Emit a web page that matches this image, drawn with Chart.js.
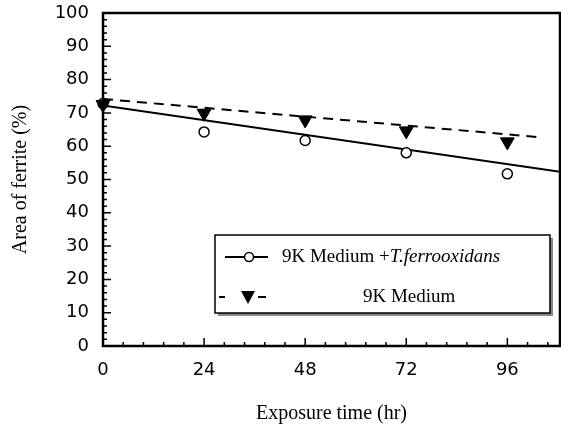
<!DOCTYPE html>
<html>
<head>
<meta charset="utf-8">
<script src="https://cdn.jsdelivr.net/npm/chart.js@4.4.0/dist/chart.umd.min.js"></script>
<style>
  html, body { margin: 0; padding: 0; background: #fff; overflow: hidden; }
  #wrap { width: 561px; height: 432px; position: relative; }
  canvas { display: block; }
</style>
</head>
<body>
<div id="wrap"><canvas id="myChart"></canvas></div>
<script>
var hours = [0, 24, 48, 72, 96];
var withBacteria = [72.8, 64.3, 61.7, 58.0, 51.7];
var mediumOnly = [72.5, 69.9, 67.9, 64.6, 61.3];

// fitted lines (start and end)
var fitBacteriaX = [0, 108.5];
var fitBacteria = [72.2, 52.3];
var fitMediumX = [0, 104.5];
var fitMedium = [74.2, 62.6];

var yTicks = [0, 10, 20, 30, 40, 50, 60, 70, 80, 90, 100];
var xTicks = [0, 24, 48, 72, 96];

var legendLabels = ["9K Medium +", "T.ferrooxidans", "9K Medium"];

function toPoints(xs, ys) {
    return xs.map(function (x, i) { return { x: x, y: ys[i] }; });
}

//Draw inward ticks, frame and the boxed legend
var framePlugin = {
    id: 'frame',
    afterDraw: function (chart) {
        var ctx = chart.ctx;
        var a = chart.chartArea;
        var xs = chart.scales.x, ys = chart.scales.y;
        ctx.save();
        ctx.strokeStyle = '#000';
        ctx.lineWidth = 1.5;
        ctx.beginPath();
        for (var v = 0; v <= 100; v += 2) {
            var py = ys.getPixelForValue(v);
            var len = (v % 10 === 0) ? 8 : 4;
            ctx.moveTo(a.left, py);
            ctx.lineTo(a.left + len, py);
        }
        for (var i = 0; i <= 22; i++) {
            var h = i * 4.8;
            var px = xs.getPixelForValue(h);
            if (px > a.right) break;
            var l = (i % 5 === 0) ? 8 : 4;
            ctx.moveTo(px, a.bottom);
            ctx.lineTo(px, a.bottom - l);
        }
        ctx.stroke();

        ctx.lineWidth = 2.5;
        ctx.strokeRect(a.left, a.top, a.right - a.left, a.bottom - a.top);

        // legend box
        var bx = 215, by = 235, bw = 335, bh = 78;
        ctx.fillStyle = '#888';
        ctx.fillRect(bx + 3, by + 3, bw, bh);
        ctx.fillStyle = '#fff';
        ctx.fillRect(bx, by, bw, bh);
        ctx.lineWidth = 1.5;
        ctx.strokeStyle = '#000';
        ctx.strokeRect(bx, by, bw, bh);

        // row 1
        var r1 = 257;
        ctx.lineWidth = 2;
        ctx.beginPath();
        ctx.moveTo(225, r1);
        ctx.lineTo(268, r1);
        ctx.stroke();
        ctx.beginPath();
        ctx.arc(249, r1, 4.5, 0, Math.PI * 2);
        ctx.fillStyle = '#fff';
        ctx.fill();
        ctx.lineWidth = 1.5;
        ctx.stroke();

        ctx.fillStyle = '#000';
        ctx.textBaseline = 'middle';
        ctx.textAlign = 'left';
        ctx.font = '19px "Liberation Serif", "Times New Roman", serif';
        ctx.fillText(legendLabels[0], 282, r1);
        var w = ctx.measureText(legendLabels[0]).width;
        ctx.font = 'italic 19px "Liberation Serif", "Times New Roman", serif';
        ctx.fillText(legendLabels[1], 282 + w, r1);

        // row 2
        var r2 = 297;
        ctx.lineWidth = 2;
        ctx.beginPath();
        ctx.moveTo(219, r2); ctx.lineTo(225, r2);
        ctx.moveTo(258, r2); ctx.lineTo(266, r2);
        ctx.stroke();
        ctx.beginPath();
        ctx.moveTo(241, r2 - 6);
        ctx.lineTo(255, r2 - 6);
        ctx.lineTo(248, r2 + 7);
        ctx.closePath();
        ctx.fill();
        ctx.font = '19px "Liberation Serif", "Times New Roman", serif';
        ctx.fillText(legendLabels[2], 363, r2);
        ctx.restore();
    }
};

var ctx = document.getElementById("myChart").getContext("2d");

var chart = new Chart(ctx, {
    type: 'scatter',
    data: {
        datasets: [
            {
                label: '9K Medium',
                data: toPoints(hours, mediumOnly),
                pointStyle: 'triangle',
                rotation: 180,
                pointRadius: 8,
                backgroundColor: '#000',
                borderColor: '#000',
                borderWidth: 1,
                showLine: false,
                clip: false,
                order: 0
            },
            {
                label: '9K Medium + T.ferrooxidans',
                data: toPoints(hours, withBacteria),
                pointStyle: 'circle',
                pointRadius: 5,
                backgroundColor: '#fff',
                borderColor: '#000',
                borderWidth: 1.5,
                showLine: false,
                clip: false,
                order: 1
            },
            {
                label: 'fit medium',
                data: toPoints(fitMediumX, fitMedium),
                showLine: true,
                borderColor: '#000',
                borderWidth: 2,
                borderDash: [10, 7],
                pointRadius: 0,
                order: 2
            },
            {
                label: 'fit bacteria',
                data: toPoints(fitBacteriaX, fitBacteria),
                showLine: true,
                borderColor: '#000',
                borderWidth: 2,
                pointRadius: 0,
                order: 3
            }
        ]
    },
    options: {
        responsive: true,
        maintainAspectRatio: false,
        animation: false,
        layout: { autoPadding: false, padding: { top: 13, right: 1, left: 0, bottom: 0 } },
        plugins: {
            legend: { display: false },
            tooltip: { enabled: false }
        },
        scales: {
            x: {
                type: 'linear',
                min: 0,
                max: 108.5,
                afterFit: function (s) {
                    s.height = 86;
                    s.paddingLeft = 0;
                    s.paddingRight = 0;
                },
                afterBuildTicks: function (s) {
                    s.ticks = xTicks.map(function (v) { return { value: v }; });
                },
                grid: { display: false, drawTicks: false },
                border: { display: false },
                ticks: {
                    padding: 14,
                    color: '#000',
                    font: { family: '"DejaVu Sans", sans-serif', size: 18 }
                },
                title: {
                    display: true,
                    text: 'Exposure time (hr)',
                    color: '#000',
                    font: { family: '"Liberation Serif", "Times New Roman", serif', size: 20 },
                    padding: { top: 0, bottom: 6 }
                }
            },
            y: {
                min: 0,
                max: 100,
                afterFit: function (s) {
                    s.width = 103;
                    s.paddingTop = 0;
                    s.paddingBottom = 0;
                },
                afterBuildTicks: function (s) {
                    s.ticks = yTicks.map(function (v) { return { value: v }; });
                },
                grid: { display: false, drawTicks: false },
                border: { display: false },
                ticks: {
                    padding: 14,
                    color: '#000',
                    font: { family: '"DejaVu Sans", sans-serif', size: 18 }
                },
                title: {
                    display: true,
                    text: 'Area of ferrite (%)',
                    color: '#000',
                    font: { family: '"Liberation Serif", "Times New Roman", serif', size: 20 },
                    padding: { top: 9, bottom: 0 }
                }
            }
        }
    },
    plugins: [framePlugin]
});
</script>
</body>
</html>
